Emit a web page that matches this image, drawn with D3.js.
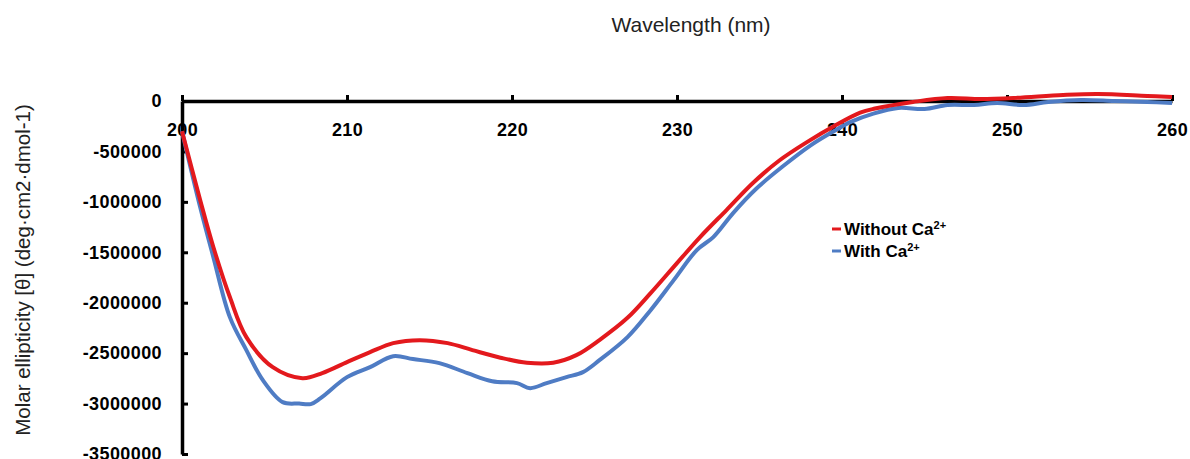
<!DOCTYPE html>
<html>
<head>
<meta charset="utf-8">
<script src="https://cdn.jsdelivr.net/npm/d3@7"></script>
<style>
  body { margin: 0; background: #fff; }
  svg { display: block; }
</style>
</head>
<body>
<div id="chart"></div>
<script>
// data (wavelength in nm, molar ellipticity)

var xTicks = [200, 210, 220, 230, 240, 250, 260]
var yTicks = [0, -500000, -1000000, -1500000, -2000000, -2500000, -3000000, -3500000]

var seriesNames = ['Without Ca', 'With Ca']
var seriesColors = ['#e3191d', '#4f7cc4']

var withoutWl = [200, 201.1, 201.9, 202.9, 203.9, 205.5, 207.3, 208.5, 210, 211.4, 212.8,
  214.4, 216.1, 217.6, 219.3, 220.9, 222.5, 223.9, 225.3, 227, 228.4, 230, 231.4, 233,
  234.6, 236.2, 237.9, 239.5, 241.1, 242, 244.3, 246.4, 248.4, 250.4, 253.4, 255.5, 258.5, 260]
var withoutVal = [-300000, -982000, -1448000, -1944000, -2341000, -2639000, -2748000,
  -2698000, -2589000, -2490000, -2401000, -2371000, -2401000, -2470000, -2545000,
  -2595000, -2595000, -2520000, -2370000, -2150000, -1905000, -1607000, -1349000,
  -1081000, -813000, -590000, -405000, -250000, -115000, -75000, -10000, 30000, 20000,
  30000, 60000, 70000, 50000, 40000]

var withWl = [200, 201.1, 201.9, 202.9, 203.9, 204.9, 206.1, 207.1, 207.8, 208.4, 210,
  211.4, 212.8, 214, 215.6, 217.3, 218.8, 220.3, 221.1, 222.1, 223.3, 224.3, 225.3, 227,
  228.4, 229.8, 231.2, 232.2, 233.4, 234.8, 236.4, 238.1, 239.5, 240.5, 241.9, 243.4,
  245, 246.4, 248, 249.4, 251, 252.5, 254.5, 256.5, 258.5, 260]
var withVal = [-300000, -1052000, -1548000, -2143000, -2470000, -2768000, -2986000,
  -3000000, -3005000, -2946000, -2738000, -2639000, -2530000, -2559000, -2599000,
  -2698000, -2778000, -2797000, -2847000, -2797000, -2738000, -2688000, -2570000,
  -2341000, -2074000, -1776000, -1478000, -1349000, -1111000, -870000, -650000,
  -440000, -300000, -210000, -125000, -69000, -79000, -40000, -40000, -20000, -40000,
  -10000, 10000, 0, -10000, -20000]

var width = 1190
var height = 459

var svg = d3
  .select('#chart')
  .append('svg')
  .attr('width', width)
  .attr('height', height)

var xPositionScale = d3.scaleLinear().domain([200, 260]).range([182, 1172])
var yPositionScale = d3.scaleLinear().domain([-3500000, 0]).range([454, 101])

// axes

var xAxis = d3
  .axisBottom(xPositionScale)
  .tickValues(xTicks)
  .tickSizeInner(-6)
  .tickSizeOuter(0)
  .tickPadding(22)
  .tickFormat(d => d)

svg
  .append('g')
  .attr('class', 'axis x-axis')
  .attr('transform', 'translate(0,' + yPositionScale(0) + ')')
  .call(xAxis)

var yAxis = d3
  .axisLeft(yPositionScale)
  .tickValues(yTicks)
  .tickSizeInner(-6)
  .tickSizeOuter(0)
  .tickPadding(20)
  .tickFormat(d => d)

svg
  .append('g')
  .attr('class', 'axis y-axis')
  .attr('transform', 'translate(' + xPositionScale(200) + ',0)')
  .call(yAxis)

svg.selectAll('.axis .domain').attr('stroke', '#000').attr('stroke-width', 3.5)
svg.selectAll('.axis .tick line').attr('stroke', '#000').attr('stroke-width', 3)
svg
  .selectAll('.axis .tick text')
  .attr('fill', '#000')
  .attr('font-family', 'Liberation Sans, Arial, sans-serif')
  .attr('font-weight', 'bold')
  .attr('font-size', 18)
  .attr('letter-spacing', 0.4)

// lines

var line = d3
  .line()
  .x(d => xPositionScale(d[0]))
  .y(d => yPositionScale(d[1]))
  .curve(d3.curveCatmullRom)

var series = [
  { name: seriesNames[1], color: seriesColors[1], points: d3.zip(withWl, withVal) },
  { name: seriesNames[0], color: seriesColors[0], points: d3.zip(withoutWl, withoutVal) }
]

svg
  .selectAll('.ellipticity-line')
  .data(series)
  .enter()
  .append('path')
  .attr('class', 'ellipticity-line')
  .attr('d', d => line(d.points))
  .attr('stroke', d => d.color)
  .attr('stroke-width', 4)
  .attr('stroke-linejoin', 'round')
  .attr('fill', 'none')

// legend

var legend = svg
  .selectAll('.legend-item')
  .data(seriesNames)
  .enter()
  .append('g')
  .attr('class', 'legend-item')
  .attr('transform', (d, i) => 'translate(832,' + (229 + i * 22) + ')')

legend
  .append('line')
  .attr('x1', 0)
  .attr('x2', 9)
  .attr('stroke', (d, i) => seriesColors[i])
  .attr('stroke-width', 3)

var legendText = legend
  .append('text')
  .attr('x', 12)
  .attr('y', 6)
  .attr('font-family', 'Liberation Sans, Arial, sans-serif')
  .attr('font-weight', 'bold')
  .attr('font-size', 17)
  .attr('fill', '#000')

legendText.append('tspan').text(d => d)
legendText
  .append('tspan')
  .attr('dy', -6)
  .attr('font-size', 11)
  .text('2+')

// titles

svg
  .append('text')
  .text('Wavelength (nm)')
  .attr('x', 691)
  .attr('y', 32)
  .attr('text-anchor', 'middle')
  .attr('font-family', 'Liberation Sans, Arial, sans-serif')
  .attr('font-size', 21)
  .attr('fill', '#222')

svg
  .append('text')
  .text('Molar ellipticity [θ] (deg·cm2·dmol-1)')
  .attr('transform', 'translate(30,270) rotate(-90)')
  .attr('text-anchor', 'middle')
  .attr('font-family', 'Liberation Sans, Arial, sans-serif')
  .attr('font-size', 20.5)
  .attr('fill', '#222')
</script>
</body>
</html>
